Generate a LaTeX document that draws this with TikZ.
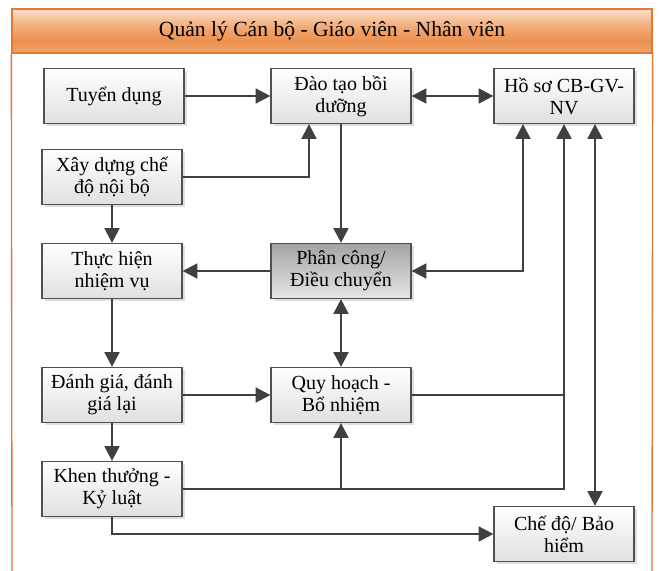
\documentclass[tikz,border=0pt]{standalone}
\usepackage{fontspec}
\setmainfont{Liberation Serif}
\usetikzlibrary{arrows.meta,shadows,calc}

\definecolor{lineGray}{HTML}{404040}
\definecolor{boxBorder}{HTML}{505050}
\definecolor{boxBottom}{HTML}{E0E0E0}
\definecolor{darkTop}{HTML}{A4A4A4}
\definecolor{darkBottom}{HTML}{E6E6E6}
\definecolor{frameOrange}{HTML}{E27A35}
\definecolor{orangeLow}{HTML}{F1A46C}
\definecolor{orangeMid}{HTML}{EC914F}
\definecolor{orangeHigh}{HTML}{FBDFCA}

\pgfdeclareverticalshading{titlebar}{100bp}{color(0bp)=(orangeLow); color(25bp)=(orangeLow);
    color(38bp)=(orangeMid); color(52bp)=(orangeLow); color(75bp)=(orangeHigh); color(100bp)=(orangeHigh)}

\tikzset{
    box/.style={draw=boxBorder, line width=0.9pt, top color=white, bottom color=boxBottom,
        minimum width=105pt, minimum height=41.25pt, align=center, inner sep=2pt,
        font=\fontsize{15}{16.5}\selectfont,
        drop shadow={shadow xshift=2pt, shadow yshift=-2pt, opacity=0.25}},
    darkbox/.style={box, top color=darkTop, bottom color=darkBottom},
    link/.style={draw=lineGray, line width=1.9pt, -{Triangle[length=11pt,width=11pt]}},
    bilink/.style={link, {Triangle[length=11pt,width=11pt]}-{Triangle[length=11pt,width=11pt]}},
    plain/.style={draw=lineGray, line width=1.9pt},
    frame/.style={draw=frameOrange, line width=1pt}
}

\begin{document}
\begin{tikzpicture}[x=0.75pt, y=-0.75pt]
    \useasboundingbox (0,0) rectangle (668,571);

    % Title bar and frame
    \node[frame, shading=titlebar, minimum width=480pt, minimum height=33pt,
        font=\fontsize{16.2}{18}\selectfont] (title) at (332,31) {Quản lý Cán bộ - Giáo viên - Nhân viên};
    \draw[frame] (title.south west) -- (12,571);
    \draw[frame] (title.south east) -- (652,571);

    % Boxes
    \node[box] (tuyen) at (114,96) {Tuyển dụng};
    \node[box] (daotao) at (341,96) {Đào tạo bồi\\dưỡng};
    \node[box] (hoso) at (564,96) {Hồ sơ CB-GV-\\NV};
    \node[box] (xaydung) at (112,177) {Xây dựng chế\\độ nội bộ};
    \node[box] (thuchien) at (112,271) {Thực hiện\\nhiệm vụ};
    \node[darkbox] (phancong) at (341,271) {Phân công/\\Điều chuyển};
    \node[box] (danhgia) at (112,395) {Đánh giá, đánh\\giá lại};
    \node[box] (quyhoach) at (341,395) {Quy hoạch -\\Bổ nhiệm};
    \node[box] (khen) at (112,489) {Khen thưởng -\\Kỷ luật};
    \node[box] (chedo) at (564,534) {Chế độ/ Bảo\\hiểm};

    % Top row
    \draw[link] (tuyen) -- (daotao);
    \draw[bilink] (daotao) -- (hoso);

    % Xay dung
    \draw[link] (xaydung) -| ($(daotao.south)+(-32,0)$);
    \draw[link] (xaydung) -- (thuchien);

    % Phan cong
    \draw[link] (daotao) -- (phancong);
    \draw[link] (phancong) -- (thuchien);
    \draw[bilink] (phancong) -| ($(hoso.south)+(-41,0)$);
    \draw[bilink] (phancong) -- (quyhoach);

    % Lower part
    \draw[link] (thuchien) -- (danhgia);
    \draw[link] (danhgia) -- (quyhoach);
    \draw[link] (danhgia) -- (khen);
    \draw[link] (khen) -| (hoso);
    \draw[plain] (quyhoach) -- (quyhoach -| hoso);
    \draw[link] (khen -| quyhoach) -- (quyhoach);
    \draw[link] (khen) |- (chedo);
    \draw[bilink] ($(hoso.south)+(31,0)$) -- ($(chedo.north)+(31,0)$);
\end{tikzpicture}
\end{document}
